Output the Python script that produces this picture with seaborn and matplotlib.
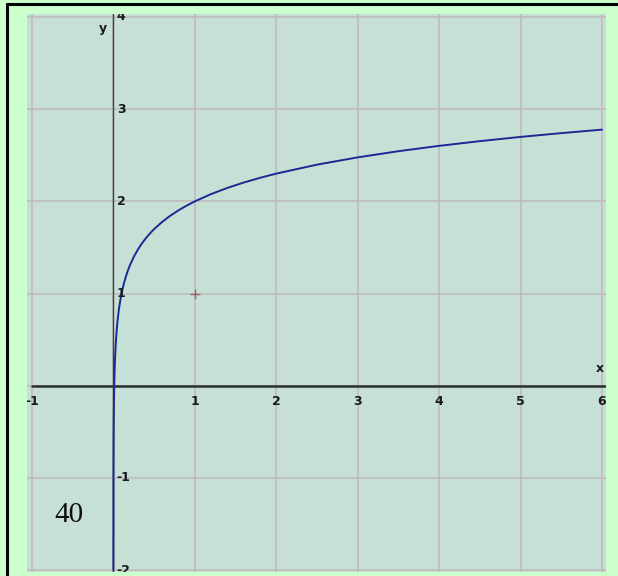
import matplotlib
matplotlib.use("Agg")
import matplotlib.pyplot as plt
from matplotlib.lines import Line2D
from matplotlib import font_manager
import seaborn as sns
import pandas as pd

# Curve points
x_vals = [0.0001, 0.001, 0.002, 0.003, 0.005, 0.0075, 0.01, 0.015, 0.02, 0.03, 0.04,
          0.05, 0.06, 0.07, 0.085, 0.1, 0.125, 0.15, 0.175, 0.2, 0.25, 0.3, 0.35,
          0.4, 0.45, 0.5, 0.6, 0.7, 0.8, 0.9, 1.0, 1.2, 1.4, 1.6, 1.8,
          2.0, 2.5, 3.0, 3.5, 4.0, 4.5, 5.0, 5.5, 6.0]
y_vals = [-2.0, -1.0, -0.70, -0.52, -0.30, -0.125, 0.0, 0.176, 0.301, 0.477, 0.602,
          0.699, 0.778, 0.845, 0.929, 1.000, 1.097, 1.176, 1.243, 1.301, 1.398, 1.477, 1.544,
          1.602, 1.653, 1.699, 1.778, 1.845, 1.903, 1.954, 2.000, 2.079, 2.146, 2.204, 2.255,
          2.301, 2.398, 2.477, 2.544, 2.602, 2.653, 2.699, 2.740, 2.778]

x_ticks = [-1, 1, 2, 3, 4, 5, 6]
y_ticks = [4, 3, 2, 1, -1, -2]
marked_point = (1, 1)
panel_number = "40"

sns.set_theme(style="white")

installed = {f.name for f in font_manager.fontManager.ttflist}
if "Liberation Sans Narrow" in installed:
    tick_family, tick_size = "Liberation Sans Narrow", 12
else:
    tick_family, tick_size = "DejaVu Sans", 9

W, H = 618, 576
fig = plt.figure(figsize=(W / 100, H / 100), dpi=100)
fig.patch.set_facecolor("#ccffcc")

# Plot panel placement (pixels)
left, right, top, bottom = 27, 606, 14, 572
ax = fig.add_axes([left / W, (H - bottom) / H, (right - left) / W, (bottom - top) / H])
ax.set_facecolor("#c6e0d6")

unit_x = (601 - 32) / 7.0
unit_y = (570 - 17) / 6.0
ax.set_xlim(-1 - 5 / unit_x, 6 + 4 / unit_x)
ax.set_ylim(-2 - 2 / unit_y, 4 + 3 / unit_y)

for s in ax.spines.values():
    s.set_visible(False)
ax.set_xticks([])
ax.set_yticks([])

grid_c = "#bdbaba"
for gx in range(-1, 7):
    ax.axvline(gx, color=grid_c, lw=1.1, zorder=1)
for gy in range(-2, 5):
    ax.axhline(gy, color=grid_c, lw=1.1, zorder=1)

# Coordinate axes
ax.plot([-1, 6.04], [0, 0], color="#2b2f2d", lw=1.8, zorder=2)
ax.axvline(0, color="#3c4440", lw=1.0, zorder=2)

df = pd.DataFrame({"x": x_vals, "y": y_vals})
sns.lineplot(data=df, x="x", y="y", sort=False, estimator=None,
             color="#1c2894", lw=1.4, ax=ax, zorder=4)
ax.set_xlabel("")
ax.set_ylabel("")

ax.plot(*marked_point, marker="+", color="#a06060", ms=7, mew=1.0, zorder=5)

lab_kw = dict(fontsize=tick_size, fontweight="bold", color="#1a1a1a",
              family=tick_family, clip_on=True, zorder=6)
for t in x_ticks:
    ax.text(t, -0.10, str(t), ha="center", va="top", **lab_kw)
for t in y_ticks:
    ax.text(0.04, t, str(t), ha="left", va="center", **lab_kw)

ax.text(-0.13, 3.87, "y", ha="center", va="center", **lab_kw)
ax.text(5.97, 0.19, "x", ha="center", va="center", **lab_kw)

ax.text(-0.55, -1.4, panel_number, ha="center", va="center",
        fontsize=21, family="Liberation Serif", color="#111111", zorder=6)

# Frame lines on the left and top edges
fig.add_artist(Line2D([7 / W, 7 / W], [0, 1 - 4 / H], transform=fig.transFigure,
                      color="black", lw=2.2))
fig.add_artist(Line2D([7 / W, 1], [1 - 4 / H, 1 - 4 / H], transform=fig.transFigure,
                      color="black", lw=2.2))

fig.savefig("out.png", dpi=100, facecolor=fig.get_facecolor())
